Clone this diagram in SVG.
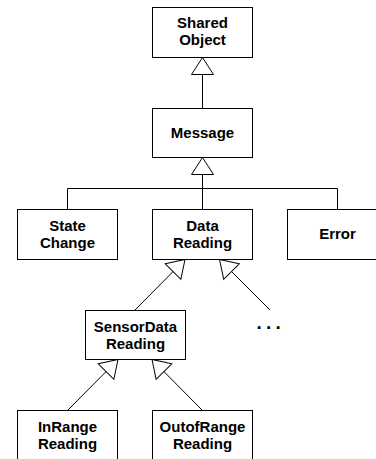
<svg xmlns="http://www.w3.org/2000/svg" width="376" height="459" viewBox="0 0 376 459">
<style>
.box{fill:#fff;stroke:#000;stroke-width:1}
.lbl{font-family:"Liberation Sans",Arial,sans-serif;font-weight:bold;font-size:15px;text-anchor:middle;fill:#000}
.edge{fill:none;stroke:#000;stroke-width:1}
</style>
<defs>
<marker id="gen" markerUnits="userSpaceOnUse" viewBox="-1 -1 19 24" refX="17" refY="11" markerWidth="19" markerHeight="24" orient="auto" overflow="visible">
<path d="M0,0 L17,11 L0,22 Z" fill="#fff" stroke="#000" stroke-width="1"/>
</marker>
</defs>
<rect width="376" height="459" fill="#fff"/>
<g id="connectors">
<line class="edge" x1="202.5" y1="108" x2="202.5" y2="57.5" marker-end="url(#gen)"/>
<path class="edge" d="M67.5,209 V188.5 H337.5 V209"/>
<line class="edge" x1="202.5" y1="209" x2="202.5" y2="157.5" marker-end="url(#gen)"/>
<line class="edge" x1="135" y1="310" x2="185" y2="259.5" marker-end="url(#gen)"/>
<line class="edge" x1="270" y1="310" x2="219.5" y2="259.5" marker-end="url(#gen)"/>
<line class="edge" x1="68" y1="410" x2="118" y2="359.5" marker-end="url(#gen)"/>
<line class="edge" x1="202" y1="410" x2="152" y2="359.5" marker-end="url(#gen)"/>
</g>
<g id="shared-object">
<rect class="box" x="152.5" y="7.5" width="100" height="50"/>
<text class="lbl" x="202.5" y="28">Shared</text>
<text class="lbl" x="202.5" y="45">Object</text>
</g>
<g id="message">
<rect class="box" x="152.5" y="108.5" width="100" height="49"/>
<text class="lbl" x="202.5" y="138">Message</text>
</g>
<g id="state-change">
<rect class="box" x="17.5" y="209.5" width="100" height="50"/>
<text class="lbl" x="67.5" y="230.5">State</text>
<text class="lbl" x="67.5" y="247.5">Change</text>
</g>
<g id="data-reading">
<rect class="box" x="152.5" y="209.5" width="100" height="50"/>
<text class="lbl" x="202.5" y="230.5">Data</text>
<text class="lbl" x="202.5" y="247.5">Reading</text>
</g>
<g id="error">
<rect class="box" x="287.5" y="209.5" width="100" height="50"/>
<text class="lbl" x="337.5" y="239">Error</text>
</g>
<g id="sensordata-reading">
<rect class="box" x="85.5" y="310.5" width="100" height="49"/>
<text class="lbl" x="135.5" y="331.5">SensorData</text>
<text class="lbl" x="135.5" y="348.5">Reading</text>
</g>
<g id="more">
<text class="lbl" x="256.5" y="328.5" style="text-anchor:start;font-size:19px;letter-spacing:4.2px">...</text>
</g>
<g id="inrange-reading">
<rect class="box" x="17.5" y="410.5" width="100" height="50"/>
<text class="lbl" x="67.5" y="431.5">InRange</text>
<text class="lbl" x="67.5" y="448.5">Reading</text>
</g>
<g id="outofrange-reading">
<rect class="box" x="152.5" y="410.5" width="100" height="50"/>
<text class="lbl" x="202.5" y="431.5">OutofRange</text>
<text class="lbl" x="202.5" y="448.5">Reading</text>
</g>
</svg>
